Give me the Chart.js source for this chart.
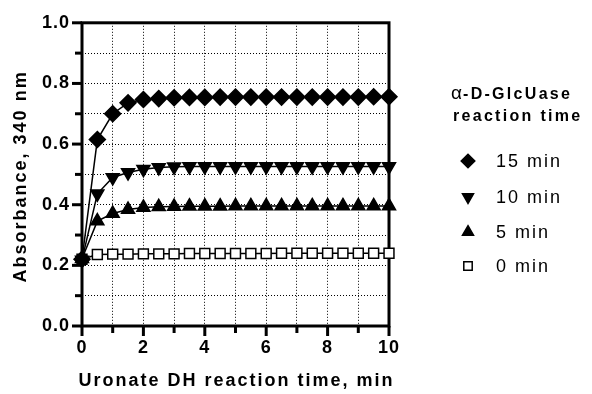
<!DOCTYPE html>
<html><head><meta charset="utf-8">
<script src="https://cdn.jsdelivr.net/npm/chart.js@4/dist/chart.umd.min.js"></script>
<style>html,body{margin:0;padding:0;background:#fff}</style>
</head><body>
<canvas id="c" width="592" height="394"></canvas>
<script>
// ---- data ----
const times = [0,0.5,1,1.5,2,2.5,3,3.5,4,4.5,5,5.5,6,6.5,7,7.5,8,8.5,9,9.5,10];
const seriesLabels = ['15 min','10 min','5 min','0 min'];
const abs15 = [0.220,0.615,0.700,0.736,0.747,0.750,0.753,0.754,0.754,0.755,0.755,0.755,0.755,0.755,0.755,0.755,0.755,0.755,0.755,0.756,0.756];
const abs10 = [0.218,0.436,0.490,0.506,0.517,0.523,0.525,0.526,0.526,0.526,0.526,0.526,0.526,0.526,0.526,0.526,0.526,0.526,0.526,0.526,0.526];
const abs5  = [0.222,0.346,0.371,0.384,0.391,0.393,0.394,0.395,0.395,0.395,0.396,0.396,0.396,0.396,0.396,0.396,0.396,0.396,0.396,0.396,0.396];
const abs0  = [0.220,0.236,0.237,0.237,0.238,0.238,0.238,0.239,0.239,0.239,0.239,0.239,0.239,0.240,0.240,0.240,0.240,0.240,0.240,0.240,0.240];
const xMajorTicks = [0,2,4,6,8,10];
const yMajorTicks = [0,0.2,0.4,0.6,0.8,1.0];
const xTitle = 'Uronate DH reaction time, min';
const yTitle = 'Absorbance, 340 nm';
const legendTitle1a = 'α';
const legendTitle1b = '-D-GlcUase';
const legendTitle2 = 'reaction time';

const FONT = '"Liberation Sans", Arial, Helvetica, sans-serif';
const styles = [
  {pointStyle:'rectRot', radius:8, rotation:0, bg:'#000'},
  {pointStyle:'triangle', radius:7.5, rotation:180, bg:'#000'},
  {pointStyle:'triangle', radius:7.5, rotation:0, bg:'#000'},
  {pointStyle:'rect', radius:7, rotation:0, bg:'#fff'}
];
const values = [abs15, abs10, abs5, abs0];

const datasets = values.map((arr,i)=>({
  label: seriesLabels[i],
  data: times.map((t,j)=>({x:t, y:arr[j]})),
  borderColor:'#000', borderWidth:1.5,
  pointStyle: styles[i].pointStyle, pointRadius: styles[i].radius,
  pointRotation: styles[i].rotation,
  pointBackgroundColor: styles[i].bg, pointBorderColor:'#000', pointBorderWidth:1.5,
  tension:0, clip:false, fill:false
}));

const isMajor = (v, list) => list.some(m => Math.abs(m - v) < 1e-6);

const decor = {
  id:'decor',
  beforeDraw(chart){ chart.ctx.letterSpacing = '1px'; },
  beforeDatasetsDraw(chart){
    const {ctx, chartArea:a, scales:{x, y}} = chart;
    ctx.save();
    ctx.letterSpacing = '0px';
    ctx.strokeStyle = '#000';
    ctx.lineWidth = 3;
    ctx.lineCap = 'butt';
    x.ticks.forEach(t=>{
      const px = x.getPixelForValue(t.value);
      const len = isMajor(t.value, xMajorTicks) ? 10 : 7;
      ctx.beginPath(); ctx.moveTo(px, a.bottom); ctx.lineTo(px, a.bottom + len); ctx.stroke();
    });
    y.ticks.forEach(t=>{
      const py = y.getPixelForValue(t.value);
      const len = isMajor(t.value, yMajorTicks) ? 10 : 7;
      ctx.beginPath(); ctx.moveTo(a.left, py); ctx.lineTo(a.left - len, py); ctx.stroke();
    });
    ctx.lineJoin = 'miter';
    ctx.strokeRect(a.left, a.top, a.right - a.left, a.bottom - a.top);
    ctx.restore();
  },
  afterDraw(chart){
    const {ctx, chartArea:a} = chart;
    ctx.save();
    ctx.fillStyle = '#000';
    ctx.font = 'bold 18px ' + FONT;
    ctx.letterSpacing = '2px';
    ctx.textAlign = 'center';
    ctx.textBaseline = 'middle';
    ctx.fillText(xTitle, (a.left + a.right)/2 + 1, 381);
    ctx.save();
    ctx.translate(21, (a.top + a.bottom)/2 + 2);
    ctx.rotate(-Math.PI/2);
    ctx.fillText(yTitle, 0, 0);
    ctx.restore();
    // legend title
    ctx.textAlign = 'left';
    ctx.textBaseline = 'alphabetic';
    ctx.letterSpacing = '0px';
    ctx.font = '19px ' + FONT;
    ctx.fillText(legendTitle1a, 451, 99);
    ctx.font = 'bold 16px ' + FONT;
    ctx.letterSpacing = '2.3px';
    ctx.fillText(legendTitle1b, 463, 99);
    ctx.fillText(legendTitle2, 453, 121);
    // legend items
    const rows = [161, 197, 232, 266];
    ctx.font = '18px ' + FONT;
    ctx.letterSpacing = '2px';
    ctx.textBaseline = 'middle';
    chart.data.datasets.forEach((ds, i)=>{
      const r = ds.pointRadius * 0.85;
      ctx.lineWidth = 1.5;
      ctx.strokeStyle = '#000';
      ctx.fillStyle = ds.pointBackgroundColor;
      Chart.helpers.drawPoint(ctx, {pointStyle: ds.pointStyle, radius: r, rotation: ds.pointRotation, borderWidth: 1.5}, 468, rows[i]);
      ctx.fillStyle = '#000';
      ctx.fillText(ds.label, 496, rows[i] + 1);
    });
    ctx.restore();
  }
};

new Chart(document.getElementById('c'), {
  type:'line',
  data:{datasets},
  plugins:[decor],
  options:{
    responsive:false, animation:false, devicePixelRatio:1,
    layout:{padding:{top:18, right:203, left:0, bottom:0}},
    plugins:{legend:{display:false}, tooltip:{enabled:false}},
    scales:{
      x:{
        type:'linear', min:0, max:10,
        afterFit(s){ s.height = 68; },
        ticks:{stepSize:1, autoSkip:false, maxRotation:0, color:'#000', padding:11,
          font:{family:FONT, size:18, weight:'bold'},
          callback:(v)=> isMajor(v, xMajorTicks) ? String(v) : ''},
        grid:{drawTicks:false, lineWidth:1,
          color:(c)=> (c.tick && (c.tick.value===0 || c.tick.value===10)) ? 'rgba(0,0,0,0)' : '#000'},
        border:{display:false, dash:[1,2]}
      },
      y:{
        type:'linear', min:0, max:1.0,
        afterFit(s){ s.width = 82; },
        ticks:{stepSize:0.1, autoSkip:false, color:'#000', padding:12,
          font:{family:FONT, size:18, weight:'bold'},
          callback:(v)=> isMajor(v, yMajorTicks) ? v.toFixed(1) : ''},
        grid:{drawTicks:false, lineWidth:1,
          color:(c)=> (c.tick && (Math.abs(c.tick.value)<1e-6 || Math.abs(c.tick.value-1)<1e-6)) ? 'rgba(0,0,0,0)' : '#000'},
        border:{display:false, dash:[1,2]}
      }
    }
  }
});
</script>
</body></html>
